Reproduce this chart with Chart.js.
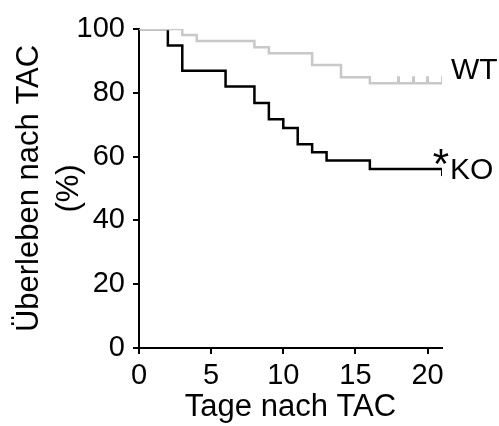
<!DOCTYPE html>
<html>
<head>
<meta charset="utf-8">
<script src="https://cdn.jsdelivr.net/npm/chart.js@4"></script>
<style>
  html, body { margin: 0; padding: 0; background: #fff; }
  #wrap { width: 499px; height: 426px; }
</style>
</head>
<body>
<div id="wrap"><canvas id="myChart" width="499" height="426"></canvas></div>
<script>
// Kaplan-Meier steps (day of event, survival % after it)
const wtDays = [0, 3, 4, 8, 9, 12, 14, 16, 21];
const wtSurv = [100, 98.1, 96.2, 94.3, 92.4, 88.7, 84.9, 83.0, 83.0];
const koDays = [0, 2, 3, 6, 8, 9, 10, 11, 12, 13, 16, 21];
const koSurv = [100, 94.8, 86.9, 82.0, 76.8, 71.7, 69.0, 63.9, 61.4, 58.8, 56.1, 56.1];
// censored animals
const wtCensorDays = [18, 19, 20, 21];
const koCensorDays = [21];
const xTicks = [0, 5, 10, 15, 20];
const yTicks = [0, 20, 40, 60, 80, 100];

const FONT = 'Liberation Sans, Arial, Helvetica, sans-serif';
const GREY = '#c8c8c8';

function censorMark(color, up) {
    const c = document.createElement('canvas');
    c.width = 3;
    c.height = 16;
    const g = c.getContext('2d');
    g.fillStyle = color;
    g.fillRect(0, up ? 1 : 8, 3, 7);
    return c;
}

const toPts = (xs, ys) => xs.map((x, i) => ({ x: x, y: ys[i] }));
const lastOf = a => a[a.length - 1];

const endLabels = {
    id: 'endLabels',
    afterDatasetsDraw(chart) {
        const ctx = chart.ctx;
        const xs = chart.scales.x, ys = chart.scales.y;
        const xEnd = xs.getPixelForValue(lastOf(wtDays));
        const wtY = ys.getPixelForValue(lastOf(wtSurv));
        const koY = ys.getPixelForValue(lastOf(koSurv));
        ctx.save();
        ctx.fillStyle = '#000';
        ctx.textAlign = 'left';
        ctx.textBaseline = 'middle';
        ctx.font = '30px ' + FONT;
        ctx.fillText('WT', xEnd + 9, wtY - 12);
        ctx.fillText('KO', xEnd + 8, koY + 2);
        ctx.textAlign = 'center';
        ctx.textBaseline = 'alphabetic';
        ctx.font = '42px ' + FONT;
        ctx.fillText('*', xEnd - 1, koY + 9);
        ctx.restore();
    }
};

const data = {
    datasets: [
        {
            label: 'WT',
            data: toPts(wtDays, wtSurv),
            borderColor: GREY,
            borderWidth: 2.5,
            showLine: true,
            stepped: 'before',
            pointRadius: 0,
            fill: false
        },
        {
            label: 'KO',
            data: toPts(koDays, koSurv),
            borderColor: '#000',
            borderWidth: 2.5,
            showLine: true,
            stepped: 'before',
            pointRadius: 0,
            fill: false
        },
        {
            label: 'WT censored',
            data: toPts(wtCensorDays, wtCensorDays.map(() => lastOf(wtSurv))),
            showLine: false,
            pointStyle: censorMark(GREY, true),
            pointRadius: 8
        },
        {
            label: 'KO censored',
            data: toPts(koCensorDays, koCensorDays.map(() => lastOf(koSurv))),
            showLine: false,
            pointStyle: censorMark('#000', false),
            pointRadius: 8
        }
    ]
};

const config = {
    type: 'scatter',
    data: data,
    options: {
        responsive: false,
        animation: false,
        layout: { padding: { top: 29, right: 57, left: 0, bottom: 0 } },
        scales: {
            x: {
                type: 'linear',
                min: 0,
                max: 21,
                afterFit: s => { s.height = 78; },
                afterBuildTicks: s => { s.ticks = xTicks.map(v => ({ value: v })); },
                grid: { display: true, drawOnChartArea: false, tickLength: 6, color: '#000', lineWidth: 2 },
                border: { color: '#000', width: 2 },
                ticks: { color: '#000', padding: 5, font: { family: FONT, size: 29 }, maxRotation: 0 },
                title: {
                    display: true,
                    text: 'Tage nach TAC',
                    color: '#000',
                    font: { family: FONT, size: 31, lineHeight: 1.2 },
                    padding: { top: 0, bottom: 0 }
                }
            },
            y: {
                min: 0,
                max: 100,
                afterFit: s => { s.width = 139; },
                afterBuildTicks: s => { s.ticks = yTicks.map(v => ({ value: v })); },
                grid: { display: true, drawOnChartArea: false, tickLength: 6, color: '#000', lineWidth: 2 },
                border: { color: '#000', width: 2 },
                ticks: { color: '#000', padding: 8, font: { family: FONT, size: 29 } },
                title: {
                    display: true,
                    text: ['Überleben nach TAC', '(%)'],
                    color: '#000',
                    font: { family: FONT, size: 31, lineHeight: 1.27 },
                    padding: { top: 10, bottom: 0 }
                }
            }
        },
        plugins: {
            legend: { display: false },
            tooltip: { enabled: false }
        }
    },
    plugins: [endLabels]
};

const myChart = new Chart(document.getElementById('myChart').getContext('2d'), config);
</script>
</body>
</html>
